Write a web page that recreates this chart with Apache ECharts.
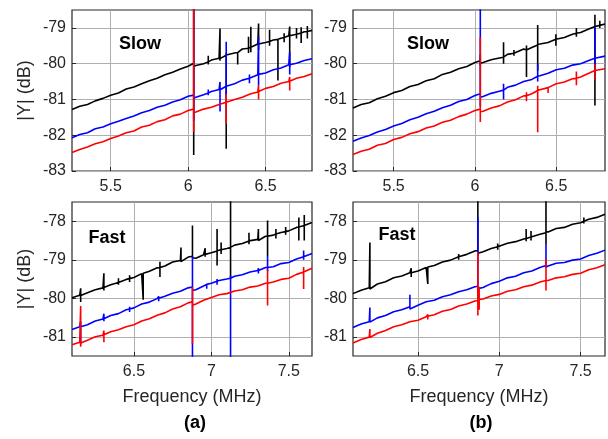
<!DOCTYPE html>
<html>
<head>
<meta charset="utf-8">
<script src="https://cdn.jsdelivr.net/npm/echarts@6/dist/echarts.min.js"></script>
<style>
  html, body { margin: 0; padding: 0; background: #fff; }
  #chart { width: 608px; height: 439px; }
</style>
</head>
<body>
<div id="chart"></div>
<script>
// frequency grids (MHz)
var freqSlow = [5.25, 5.3, 5.35, 5.4, 5.45, 5.5, 5.55, 5.6, 5.65, 5.7, 5.75, 5.8, 5.85, 5.9, 5.95, 6.0,
  6.05, 6.1, 6.15, 6.2, 6.25, 6.3, 6.35, 6.4, 6.45, 6.5, 6.55, 6.6, 6.65, 6.7, 6.75, 6.8];
var freqFast = [6.1, 6.15, 6.2, 6.25, 6.3, 6.35, 6.4, 6.45, 6.5, 6.55, 6.6, 6.65, 6.7, 6.75, 6.8, 6.85,
  6.9, 6.95, 7.0, 7.05, 7.1, 7.15, 7.2, 7.25, 7.3, 7.35, 7.4, 7.45, 7.5, 7.55, 7.6, 7.65];

// tick values
var xTicksSlow = [5.5, 6, 6.5];
var xTicksFast = [6.5, 7, 7.5];
var yTicksSlow = [-83, -82, -81, -80, -79];
var yTicksFast = [-81, -80, -79, -78];

// (a) Slow
var slowA_black = [-81.28, -81.19, -81.14, -81.04, -80.97, -80.88, -80.82, -80.71, -80.65, -80.56, -80.48, -80.41, -80.31, -80.24, -80.15, -80.07,
  -80.05, -80.00, -79.90, -79.85, -79.74, -79.70, -79.59, -79.55, -79.45, -79.41, -79.34, -79.29, -79.22, -79.18, -79.11, -79.07];
var slowA_blue = [-82.07, -81.98, -81.93, -81.82, -81.77, -81.68, -81.61, -81.53, -81.46, -81.37, -81.31, -81.22, -81.16, -81.07, -81.01, -80.91,
  -80.94, -80.87, -80.78, -80.72, -80.62, -80.56, -80.46, -80.41, -80.31, -80.26, -80.17, -80.12, -80.03, -79.99, -79.91, -79.86];
var slowA_red = [-82.48, -82.40, -82.33, -82.24, -82.18, -82.09, -82.02, -81.93, -81.88, -81.77, -81.72, -81.62, -81.57, -81.46, -81.41, -81.31,
  -81.35, -81.27, -81.22, -81.14, -81.09, -81.00, -80.94, -80.85, -80.79, -80.69, -80.64, -80.55, -80.50, -80.41, -80.36, -80.28];
// spikes: [freq, level before, top, bottom, level after]
var slowA_blackSpk = [[6.036, -79.99, -78.0, -82.55, -80.08], [6.13, -79.95, -79.78, -80.02], [6.206, -79.86, -79.02, -79.92],
  [6.246, -79.76, -79.70, -82.38], [6.32, -79.69, -79.66, -80.02], [6.39, -79.57, -79.25, -79.70], [6.405, -79.54, -78.97, -79.68],
  [6.455, -79.45, -78.88, -79.62], [6.526, -79.38, -79.05, -79.50], [6.58, -79.32, -79.30, -80.47], [6.62, -79.27, -79.15, -79.40],
  [6.656, -79.22, -78.96, -80.10], [6.70, -79.18, -79.00, -79.30], [6.73, -79.14, -78.98, -79.42], [6.77, -79.10, -78.95, -79.30]];
var slowA_blueSpk = [[6.036, -80.88, -78.0, -81.6, -80.97], [6.13, -80.82, -80.72, -80.88], [6.206, -80.73, -80.51, -81.34],
  [6.246, -80.63, -79.39, -80.90], [6.396, -80.41, -80.30, -80.55], [6.455, -80.30, -79.25, -80.60], [6.656, -80.03, -79.67, -80.30]];
var slowA_redSpk = [[6.036, -81.27, -78.0, -81.91, -81.37], [6.246, -81.08, -80.85, -81.68], [6.455, -80.78, -80.60, -81.0],
  [6.656, -80.49, -80.37, -80.75]];

// (b) Slow
var slowB_black = [-81.24, -81.14, -81.09, -80.98, -80.91, -80.81, -80.75, -80.64, -80.58, -80.48, -80.42, -80.30, -80.24, -80.14, -80.08, -79.97,
  -79.97, -79.89, -79.84, -79.74, -79.69, -79.59, -79.55, -79.45, -79.41, -79.32, -79.27, -79.18, -79.13, -79.03, -78.98, -78.89];
var slowB_blue = [-82.17, -82.08, -82.01, -81.91, -81.84, -81.74, -81.67, -81.57, -81.50, -81.40, -81.33, -81.23, -81.16, -81.06, -81.00, -80.89,
  -80.92, -80.83, -80.77, -80.66, -80.60, -80.50, -80.44, -80.34, -80.27, -80.17, -80.13, -80.04, -80.00, -79.91, -79.87, -79.79];
var slowB_red = [-82.54, -82.45, -82.39, -82.28, -82.23, -82.12, -82.06, -81.96, -81.90, -81.80, -81.74, -81.64, -81.58, -81.48, -81.41, -81.31,
  -81.33, -81.24, -81.18, -81.07, -81.01, -80.90, -80.84, -80.73, -80.67, -80.56, -80.51, -80.42, -80.37, -80.27, -80.22, -80.14];
var slowB_blackSpk = [[6.033, -79.92, -79.75, -80.05, -79.99], [6.176, -79.82, -79.40, -80.0], [6.24, -79.71, -79.62, -79.78],
  [6.317, -79.62, -79.49, -80.37], [6.386, -79.48, -78.92, -80.2, -79.46], [6.498, -79.32, -79.18, -79.50], [6.624, -79.15, -79.0, -79.25],
  [6.738, -78.96, -78.63, -81.17], [6.768, -78.93, -78.80, -79.0]];
var slowB_blueSpk = [[6.033, -80.84, -78.0, -81.2, -80.94], [6.176, -80.74, -80.56, -81.0], [6.386, -80.35, -80.0, -80.5],
  [6.738, -79.85, -79.00, -80.3]];
var slowB_redSpk = [[6.033, -81.27, -79.26, -81.63, -81.34], [6.317, -80.90, -80.80, -81.05], [6.386, -80.75, -80.62, -81.92],
  [6.45, -80.67, -80.62, -80.82], [6.624, -80.41, -80.22, -80.60], [6.738, -80.19, -80.00, -80.45]];

// (a) Fast
var fastA_black = [-79.99, -79.92, -79.86, -79.78, -79.73, -79.65, -79.59, -79.51, -79.46, -79.36, -79.30, -79.21, -79.16, -79.06, -79.02, -78.93,
  -78.96, -78.87, -78.82, -78.75, -78.71, -78.62, -78.58, -78.50, -78.47, -78.39, -78.36, -78.29, -78.25, -78.16, -78.11, -78.03];
var fastA_blue = [-80.81, -80.74, -80.69, -80.59, -80.54, -80.45, -80.40, -80.30, -80.25, -80.15, -80.10, -80.01, -79.95, -79.87, -79.82, -79.73,
  -79.78, -79.68, -79.61, -79.54, -79.50, -79.43, -79.39, -79.32, -79.28, -79.20, -79.18, -79.10, -79.07, -78.98, -78.92, -78.84];
var fastA_red = [-81.21, -81.14, -81.09, -81.00, -80.96, -80.87, -80.82, -80.74, -80.69, -80.59, -80.53, -80.44, -80.38, -80.28, -80.22, -80.12,
  -80.15, -80.05, -79.98, -79.91, -79.88, -79.81, -79.78, -79.71, -79.68, -79.61, -79.58, -79.51, -79.48, -79.38, -79.31, -79.22];
var fastA_blackSpk = [[6.156, -79.93, -79.74, -80.10], [6.306, -79.72, -79.35, -79.80], [6.40, -79.59, -79.48, -79.65],
  [6.472, -79.49, -79.40, -79.58], [6.56, -79.35, -79.32, -80.04], [6.668, -79.20, -79.05, -79.45], [6.804, -79.02, -78.68, -79.05],
  [6.878, -78.91, -78.11, -78.95, -78.98], [6.96, -78.86, -78.70, -78.92], [7.037, -78.77, -78.20, -79.15], [7.063, -78.74, -78.55, -78.85],
  [7.124, -78.68, -77.0, -79.5], [7.243, -78.51, -78.30, -78.60], [7.304, -78.46, -78.20, -78.50], [7.363, -78.39, -77.98, -78.90],
  [7.417, -78.33, -78.20, -78.45], [7.48, -78.27, -78.15, -78.35], [7.565, -78.15, -77.90, -78.50], [7.60, -78.11, -77.84, -78.50]];
var fastA_blueSpk = [[6.156, -80.74, -80.6, -81.2], [6.306, -80.53, -80.40, -80.60], [6.472, -80.28, -80.22, -80.36],
  [6.66, -80.00, -79.95, -80.08], [6.878, -79.71, -78.91, -82.0, -79.80], [6.97, -79.64, -79.60, -79.75], [7.037, -79.56, -79.50, -79.65],
  [7.124, -79.48, -79.41, -82.0], [7.304, -79.28, -79.22, -79.36], [7.363, -79.20, -78.90, -79.30], [7.596, -78.92, -78.76, -79.0]];
var fastA_redSpk = [[6.156, -81.16, -80.2, -81.26], [6.306, -80.95, -80.84, -81.14], [6.878, -80.09, -79.71, -81.19, -80.18],
  [7.363, -79.61, -79.25, -80.19], [7.596, -79.32, -79.19, -79.76]];

// (b) Fast
var fastB_black = [-79.88, -79.79, -79.73, -79.63, -79.57, -79.47, -79.42, -79.34, -79.29, -79.20, -79.15, -79.06, -79.01, -78.92, -78.86, -78.77,
  -78.79, -78.71, -78.65, -78.57, -78.53, -78.46, -78.42, -78.34, -78.28, -78.19, -78.16, -78.08, -78.04, -77.95, -77.90, -77.82];
var fastB_blue = [-80.76, -80.67, -80.61, -80.51, -80.45, -80.35, -80.30, -80.22, -80.18, -80.09, -80.05, -79.96, -79.91, -79.83, -79.78, -79.70,
  -79.72, -79.62, -79.56, -79.47, -79.43, -79.34, -79.29, -79.20, -79.16, -79.09, -79.07, -79.01, -78.98, -78.89, -78.83, -78.75];
var fastB_red = [-81.16, -81.07, -81.01, -80.91, -80.84, -80.74, -80.69, -80.61, -80.57, -80.48, -80.43, -80.34, -80.29, -80.20, -80.15, -80.07,
  -80.02, -79.94, -79.90, -79.82, -79.78, -79.70, -79.66, -79.58, -79.54, -79.47, -79.44, -79.38, -79.35, -79.26, -79.21, -79.13];
var fastB_blackSpk = [[6.204, -79.72, -78.55, -79.76], [6.458, -79.34, -79.22, -79.45], [6.56, -79.19, -79.15, -79.63],
  [6.75, -78.92, -78.85, -79.0], [6.868, -78.76, -77.0, -78.90, -78.83], [6.99, -78.66, -78.58, -78.74], [7.165, -78.45, -78.20, -78.52],
  [7.195, -78.41, -78.25, -78.50], [7.287, -78.30, -77.0, -78.60, -78.27], [7.52, -78.00, -77.90, -78.06]];
var fastB_blueSpk = [[6.204, -80.60, -80.24, -80.62], [6.45, -80.24, -79.91, -80.28], [6.868, -79.69, -77.90, -80.10, -79.75],
  [7.287, -79.15, -78.59, -79.20]];
var fastB_redSpk = [[6.204, -80.99, -80.80, -81.02], [6.56, -80.47, -80.42, -80.55], [6.868, -80.06, -78.80, -80.45, -80.05],
  [6.876, -80.03, -79.70, -80.30], [7.287, -79.54, -78.98, -79.80]];

var FONT = '"Liberation Sans", Arial, sans-serif';
var TXT = '#262626';

function trace(freq, vals, spikes) {
  var pts = freq.map(function (f, i) { return [f, vals[i]]; });
  spikes.forEach(function (s) {
    var after = s.length > 4 ? s[4] : s[1];
    pts.push([s[0], s[1]], [s[0], s[2]], [s[0], s[3]], [s[0], after]);
  });
  return pts.sort(function (a, b) { return a[0] - b[0]; });
}

function xAx(idx, min, max, ticks, name) {
  return {
    type: 'value', gridIndex: idx, min: min, max: max,
    name: name, nameLocation: 'middle', nameGap: 32,
    nameTextStyle: { fontSize: 18, color: TXT, fontFamily: FONT },
    axisLine: { show: false },
    axisTick: { inside: true, length: 4, customValues: ticks, lineStyle: { color: TXT } },
    axisLabel: { customValues: ticks, fontSize: 16, color: TXT, fontFamily: FONT, margin: 8 },
    splitLine: { show: true, lineStyle: { color: '#b0b0b0', width: 1 } }
  };
}

function yAx(idx, min, max, ticks, name) {
  return {
    type: 'value', gridIndex: idx, min: min, max: max,
    name: name, nameLocation: 'middle', nameGap: 38,
    nameTextStyle: { fontSize: 18, color: TXT, fontFamily: FONT },
    axisLine: { show: false },
    axisTick: { inside: true, length: 4, customValues: ticks, lineStyle: { color: TXT } },
    axisLabel: { customValues: ticks, fontSize: 16, color: TXT, fontFamily: FONT, margin: 6 },
    splitLine: { show: true, lineStyle: { color: '#b0b0b0', width: 1 } }
  };
}

function line(idx, data, color) {
  return {
    type: 'line', xAxisIndex: idx, yAxisIndex: idx, data: data,
    showSymbol: false, symbol: 'none', animation: false, clip: true,
    lineStyle: { color: color, width: 1.6 }
  };
}

function label(x, y, text, size) {
  return {
    type: 'text', x: x, y: y, z: 100,
    style: { text: text, font: 'bold ' + size + 'px ' + FONT, fill: '#000', align: 'center', verticalAlign: 'middle' }
  };
}

var chart = echarts.init(document.getElementById('chart'), null, { renderer: 'canvas' });
chart.setOption({
  backgroundColor: '#fff',
  animation: false,
  grid: [
    { left: 72, top: 10, width: 240, height: 161, show: true, borderColor: TXT, borderWidth: 1.2 },
    { left: 353, top: 10, width: 252, height: 161, show: true, borderColor: TXT, borderWidth: 1.2 },
    { left: 72, top: 202, width: 240, height: 154, show: true, borderColor: TXT, borderWidth: 1.2 },
    { left: 353, top: 202, width: 252, height: 154, show: true, borderColor: TXT, borderWidth: 1.2 }
  ],
  xAxis: [
    xAx(0, 5.25, 6.8, xTicksSlow, ''),
    xAx(1, 5.25, 6.8, xTicksSlow, ''),
    xAx(2, 6.1, 7.65, xTicksFast, 'Frequency (MHz)'),
    xAx(3, 6.1, 7.65, xTicksFast, 'Frequency (MHz)')
  ],
  yAxis: [
    yAx(0, -83, -78.5, yTicksSlow, '|Y| (dB)'),
    yAx(1, -83, -78.5, yTicksSlow, ''),
    yAx(2, -81.5, -77.5, yTicksFast, '|Y| (dB)'),
    yAx(3, -81.5, -77.5, yTicksFast, '')
  ],
  series: [
    line(0, trace(freqSlow, slowA_black, slowA_blackSpk), '#000000'),
    line(0, trace(freqSlow, slowA_blue, slowA_blueSpk), '#0000ff'),
    line(0, trace(freqSlow, slowA_red, slowA_redSpk), '#ff0000'),
    line(1, trace(freqSlow, slowB_black, slowB_blackSpk), '#000000'),
    line(1, trace(freqSlow, slowB_blue, slowB_blueSpk), '#0000ff'),
    line(1, trace(freqSlow, slowB_red, slowB_redSpk), '#ff0000'),
    line(2, trace(freqFast, fastA_black, fastA_blackSpk), '#000000'),
    line(2, trace(freqFast, fastA_blue, fastA_blueSpk), '#0000ff'),
    line(2, trace(freqFast, fastA_red, fastA_redSpk), '#ff0000'),
    line(3, trace(freqFast, fastB_black, fastB_blackSpk), '#000000'),
    line(3, trace(freqFast, fastB_blue, fastB_blueSpk), '#0000ff'),
    line(3, trace(freqFast, fastB_red, fastB_redSpk), '#ff0000')
  ],
  graphic: [
    label(140, 44, 'Slow', 18),
    label(428, 44, 'Slow', 18),
    label(107, 238, 'Fast', 18),
    label(397, 235, 'Fast', 18),
    label(195, 423, '(a)', 18),
    label(481, 423, '(b)', 18)
  ]
});
</script>
</body>
</html>
